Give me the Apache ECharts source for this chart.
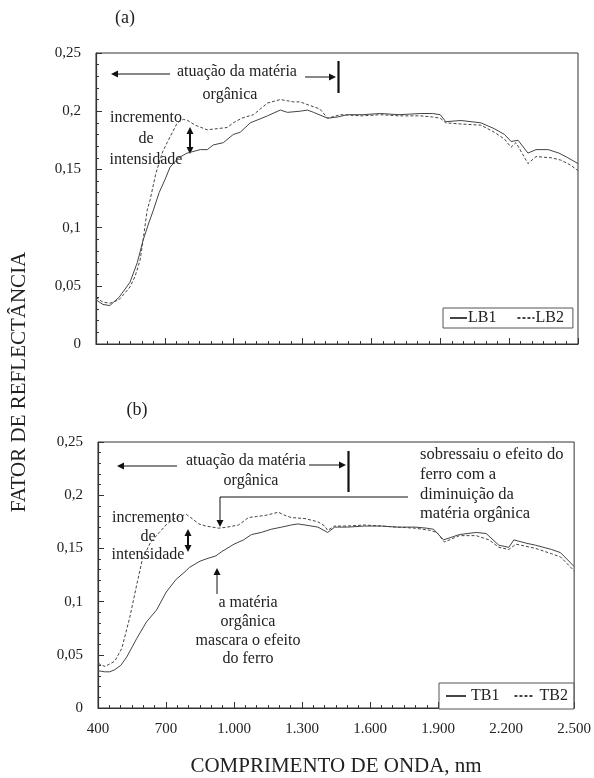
<!DOCTYPE html>
<html>
<head>
<meta charset="utf-8">
<script src="https://cdn.jsdelivr.net/npm/echarts@6/dist/echarts.min.js"></script>
<style>
html,body{margin:0;padding:0;background:#fff;}
#chart{width:594px;height:778px;}
</style>
</head>
<body>
<div id="chart"></div>
<script>
// ---- Data ----
const lb1Nm  = [400,430,460,500,548,580,605,630,650,675,700,723,760,797,854,885,911,955,998,1029,1072,1110,1147,1203,1234,1290,1321,1348,1409,1452,1495,1560,1640,1720,1815,1867,1900,1924,1990,2077,2135,2180,2208,2239,2282,2317,2370,2417,2456,2500];
const lb1Val = [0.038,0.034,0.033,0.040,0.053,0.070,0.089,0.104,0.115,0.130,0.141,0.152,0.160,0.164,0.167,0.167,0.171,0.173,0.180,0.182,0.190,0.193,0.196,0.201,0.199,0.200,0.201,0.199,0.194,0.195,0.197,0.197,0.198,0.197,0.198,0.198,0.197,0.191,0.192,0.190,0.185,0.180,0.174,0.175,0.164,0.167,0.167,0.164,0.160,0.155];

const lb2Nm  = [400,430,461,500,527,548,570,592,605,623,636,660,690,710,754,780,800,832,885,928,972,998,1035,1086,1147,1203,1261,1290,1330,1375,1409,1465,1560,1640,1720,1815,1867,1900,1924,1990,2077,2135,2180,2208,2230,2282,2317,2383,2425,2465,2500];
const lb2Val = [0.040,0.036,0.035,0.038,0.044,0.049,0.058,0.072,0.089,0.115,0.124,0.146,0.165,0.173,0.190,0.193,0.192,0.188,0.184,0.185,0.186,0.190,0.194,0.197,0.207,0.210,0.208,0.208,0.205,0.202,0.194,0.197,0.196,0.197,0.196,0.196,0.195,0.194,0.190,0.189,0.188,0.182,0.176,0.169,0.173,0.155,0.161,0.160,0.158,0.154,0.149];

const tb1Nm  = [400,430,452,474,500,527,570,614,658,701,745,789,802,850,876,920,946,1000,1042,1077,1120,1164,1210,1252,1282,1313,1370,1413,1444,1500,1575,1650,1719,1800,1850,1880,1924,1994,2068,2112,2168,2212,2234,2287,2330,2400,2440,2500];
const tb1Val = [0.035,0.034,0.034,0.036,0.040,0.048,0.065,0.081,0.092,0.109,0.121,0.129,0.132,0.138,0.140,0.143,0.147,0.154,0.158,0.163,0.165,0.168,0.170,0.172,0.173,0.172,0.170,0.165,0.170,0.170,0.171,0.171,0.170,0.170,0.169,0.168,0.158,0.163,0.165,0.164,0.153,0.151,0.158,0.155,0.153,0.149,0.146,0.133];

const tb2Nm  = [400,431,474,505,540,570,596,630,670,700,728,760,789,815,845,876,932,970,1020,1064,1100,1138,1195,1225,1252,1313,1370,1400,1413,1444,1500,1575,1650,1719,1800,1863,1895,1928,1994,2068,2125,2168,2212,2243,2287,2330,2400,2440,2500];
const tb2Val = [0.042,0.039,0.044,0.056,0.085,0.115,0.140,0.155,0.165,0.172,0.177,0.180,0.182,0.178,0.173,0.171,0.169,0.170,0.172,0.179,0.180,0.181,0.184,0.181,0.179,0.178,0.175,0.171,0.167,0.171,0.171,0.172,0.171,0.170,0.169,0.167,0.165,0.156,0.162,0.162,0.158,0.151,0.149,0.154,0.152,0.150,0.145,0.142,0.129];

const xMin = 400, xMax = 2500, xStep = 300;
const yMin = 0, yMax = 0.25, yStep = 0.05;
const panelLabels = ['(a)', '(b)'];
const seriesNames = ['LB1', 'LB2', 'TB1', 'TB2'];
const yTitle = 'FATOR DE REFLECTÂNCIA';
const xTitle = 'COMPRIMENTO DE ONDA, nm';

function pairs(xs, ys){ return xs.map((x,i)=>[x, ys[i]]); }

const FONT = '"Liberation Serif", "Times New Roman", serif';
const INK = '#222';
const LINEC = '#444';

function yFmt(v){ return String(+v.toFixed(2)).replace('.', ','); }
function xFmt(v){ return v >= 1000 ? String(v).replace(/(\d)(\d{3})$/, '$1.$2') : String(v); }

function xAxisCfg(idx, showLabels){
  return {
    type:'value', gridIndex: idx, min:xMin, max:xMax, interval:xStep,
    axisLine:{show:true, onZero:false, lineStyle:{color:'#333', width:1.2}},
    axisTick:{show:true, inside:true, length:6, lineStyle:{color:'#333'}},
    minorTick:{show:true, splitNumber:6, length:3, lineStyle:{color:'#333'}},
    splitLine:{show:false},
    axisLabel:{show:showLabels, formatter:xFmt, fontFamily:FONT, fontSize:15, color:INK, margin:14},
    name: showLabels ? xTitle : '',
    nameLocation:'middle', nameGap:48,
    nameTextStyle:{fontFamily:FONT, fontSize:21, color:INK}
  };
}
function yAxisCfg(idx){
  return {
    type:'value', gridIndex: idx, min:yMin, max:yMax, interval:yStep,
    axisLine:{show:true, lineStyle:{color:'#333', width:1.2}},
    axisTick:{show:true, inside:true, length:6, lineStyle:{color:'#333'}},
    minorTick:{show:true, splitNumber:5, length:3, lineStyle:{color:'#333'}},
    splitLine:{show:false},
    axisLabel:{formatter:yFmt, fontFamily:FONT, fontSize:15, color:INK, margin:15}
  };
}
function lineSeries(name, data, idx, dashed){
  return {
    name, type:'line', xAxisIndex:idx, yAxisIndex:idx, data,
    showSymbol:false, symbol:'none', smooth:false, silent:true, animation:false,
    lineStyle:{color:LINEC, width:1, type: dashed ? [3,2] : 'solid'},
    itemStyle:{color:LINEC}
  };
}

// ---- annotation helpers ----
function head(x, y, dir){
  const L = 7, W = 3.5;
  let pts;
  if (dir==='left') pts=[[x,y],[x+L,y-W],[x+L,y+W]];
  if (dir==='right') pts=[[x,y],[x-L,y-W],[x-L,y+W]];
  if (dir==='up') pts=[[x,y],[x-W,y+L],[x+W,y+L]];
  if (dir==='down') pts=[[x,y],[x-W,y-L],[x+W,y-L]];
  return {type:'polygon', shape:{points:pts}, style:{fill:'#111'}, silent:true};
}
function seg(pts, w){
  return {type:'polyline', shape:{points:pts}, style:{stroke:'#111', lineWidth:w||1, fill:null}, silent:true};
}
function txt(s, x, y, align, size){
  return {type:'text', x, y, silent:true,
    style:{text:s, font:(size||16) + 'px ' + FONT, fill:INK, textAlign:align||'left', textVerticalAlign:'middle'}};
}

const graphics = [
  // y title
  {type:'text', x:19, y:382, rotation:Math.PI/2, silent:true,
   style:{text:yTitle, font:'21px ' + FONT, fill:INK, textAlign:'center', textVerticalAlign:'middle'}},
  txt(panelLabels[0], 125, 18, 'center', 18),
  txt(panelLabels[1], 137, 410, 'center', 18),

  // --- panel (a) ---
  txt('atuação da matéria', 177, 72),
  txt('orgânica', 230, 95, 'center'),
  seg([[170,74],[116,74]]), head(111,74,'left'),
  seg([[305,77],[331,77]]), head(336,77,'right'),
  seg([[338.5,61],[338.5,93]], 2.2),
  txt('incremento', 146, 118, 'center'),
  txt('de', 146, 139, 'center'),
  txt('intensidade', 146, 160, 'center'),
  seg([[190,133],[190,148]], 2), head(190,127,'up'), head(190,154,'down'),

  // --- panel (b) ---
  txt('atuação da matéria', 186, 461),
  txt('orgânica', 251, 481, 'center'),
  seg([[177,466],[122,466]]), head(117,466,'left'),
  seg([[309,465],[341,465]]), head(346,465,'right'),
  seg([[348.5,451],[348.5,492]], 2.2),
  seg([[408,497],[220,497],[220,521]]), head(220,527,'down'),
  txt('sobressaiu o efeito do', 420, 455, 'left', 16.5),
  txt('ferro com a', 420, 475, 'left', 16.5),
  txt('diminuição da', 420, 495, 'left', 16.5),
  txt('matéria orgânica', 420, 514, 'left', 16.5),
  txt('incremento', 148, 518, 'center'),
  txt('de', 148, 537, 'center'),
  txt('intensidade', 148, 555, 'center'),
  seg([[188,535],[188,546]], 2), head(188,529,'up'), head(188,552,'down'),
  seg([[217,594],[217,574]]), head(217,568,'up'),
  txt('a matéria', 248, 603, 'center'),
  txt('orgânica', 248, 622, 'center'),
  txt('mascara o efeito', 248, 641, 'center'),
  txt('do ferro', 248, 659, 'center')
];

const legendBase = {
  orient:'horizontal', itemHeight:10, backgroundColor:'#fff', borderColor:'#555', borderWidth:1, borderRadius:0,
  selectedMode:false, itemStyle:{opacity:0, borderWidth:0}
};

const chart = echarts.init(document.getElementById('chart'), null, {renderer:'canvas'});
chart.setOption({
  animation:false,
  backgroundColor:'#fff',
  grid:[
    {left:96, top:53, width:482, height:291, show:true, borderColor:'#333', borderWidth:1, backgroundColor:'transparent'},
    {left:98, top:442, width:482, height:274, show:true, borderColor:'#333', borderWidth:1, backgroundColor:'transparent'}
  ],
  xAxis:[xAxisCfg(0,false), xAxisCfg(1,true)],
  yAxis:[yAxisCfg(0), yAxisCfg(1)],
  legend:[
    Object.assign({}, legendBase, {data:[seriesNames[0], seriesNames[1]], left:443, top:308,
      itemWidth:17, itemGap:20, padding:[2,9,2,6],
      textStyle:{fontFamily:FONT, fontSize:16, color:INK, padding:[0,0,0,-4]}}),
    Object.assign({}, legendBase, {data:[seriesNames[2], seriesNames[3]], left:439, top:683,
      itemWidth:20, itemGap:14, padding:[5,6,5,6],
      textStyle:{fontFamily:FONT, fontSize:16, color:INK}})
  ],
  series:[
    lineSeries(seriesNames[0], pairs(lb1Nm, lb1Val), 0, false),
    lineSeries(seriesNames[1], pairs(lb2Nm, lb2Val), 0, true),
    lineSeries(seriesNames[2], pairs(tb1Nm, tb1Val), 1, false),
    lineSeries(seriesNames[3], pairs(tb2Nm, tb2Val), 1, true)
  ],
  graphic: graphics
});
</script>
</body>
</html>
